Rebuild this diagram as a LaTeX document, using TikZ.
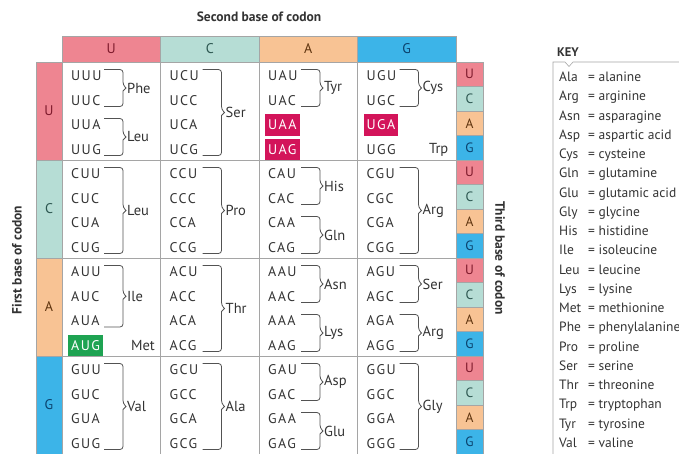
\documentclass[tikz,border=0pt]{standalone}
\usepackage{fontspec}
\setmainfont{PT Sans}
\newfontfamily\codonfont[LetterSpace=10]{PT Sans}

\definecolor{baseU}{HTML}{EE8591}
\definecolor{baseC}{HTML}{B6DDD5}
\definecolor{baseA}{HTML}{F8C394}
\definecolor{baseG}{HTML}{3CB4E8}
\definecolor{darkU}{HTML}{7E1A2C}
\definecolor{darkC}{HTML}{2C5650}
\definecolor{darkA}{HTML}{5E330E}
\definecolor{darkG}{HTML}{0B426D}
\definecolor{stopred}{HTML}{D3145A}
\definecolor{startgreen}{HTML}{1EA352}
\definecolor{gridgray}{HTML}{A5A5A5}
\definecolor{ink}{HTML}{333333}

% highlighted codons
\def\hiUAA{stopred}
\def\hiUAG{stopred}
\def\hiUGA{stopred}
\def\hiAUG{startgreen}

\tikzset{
  basecell/.style={draw=gridgray, line width=0.6pt, inner sep=0pt, font=\fontsize{14}{14}\selectfont},
  codon/.style={anchor=west, inner sep=0pt, text height=9.5pt, text depth=0pt, text=ink, font=\codonfont\fontsize{14}{14}\selectfont},
  hilite/.style={fill=#1, text=white, inner xsep=3pt, minimum height=21.5pt, xshift=-3pt},
  amino/.style={anchor=west, inner sep=0pt, text=ink, font=\fontsize{14.5}{14.5}\selectfont},
  brace/.style={draw=ink!85, line width=0.8pt, rounded corners=3pt},
  keytext/.style={anchor=base west, inner sep=0pt, text=ink, font=\fontsize{13.5}{13.5}\selectfont},
  title/.style={inner sep=0pt, text=ink, font=\bfseries\fontsize{13.5}{13.5}\selectfont}
}

\begin{document}
\begin{tikzpicture}[x=1pt,y=-1pt]
  \useasboundingbox (0,0) rectangle (679,453);

  % Titles
  \node[title] (second) at (259,17) {Second base of codon};
  \node[title, rotate=90] (first) at (17,260) {First base of codon};
  \node[title, rotate=-90] (third) at (500,258) {Third base of codon};

  % Body cells
  \foreach \i in {1,...,4}
    \foreach \j in {1,...,4}
    {
      \pgfmathsetmacro{\x}{62+(\j-0.5)*98.5}
      \pgfmathsetmacro{\y}{62+(\i-0.5)*98}
      \node[basecell, minimum width=98.5pt, minimum height=98pt] (cell-\i\j) at (\x,\y) {};
    }

  % Second base (header) and first base (left)
  \foreach \b [count=\j] in {U,C,A,G}
  {
    \pgfmathsetmacro{\x}{62+(\j-0.5)*98.5}
    \pgfmathsetmacro{\y}{62+(\j-0.5)*98}
    \node[basecell, fill=base\b, text=dark\b, minimum width=98.5pt, minimum height=26pt] (hd-\b) at (\x,49) {\b};
    \node[basecell, fill=base\b, text=dark\b, minimum width=26pt, minimum height=98pt] (fb-\b) at (49,\y) {\b};
  }

  % Third base (right)
  \foreach \i in {1,...,4}
    \foreach \t [count=\k] in {U,C,A,G}
    {
      \pgfmathsetmacro{\y}{62+(\i-1)*98+(\k-0.5)*24.5}
      \node[basecell, fill=base\t, text=dark\t, minimum width=27pt, minimum height=24.5pt, font=\fontsize{13.5}{13.5}\selectfont] (tb-\i\t) at (469.5,\y) {\t};
    }

  % Codons
  \foreach \f [count=\i] in {U,C,A,G}
    \foreach \s [count=\j] in {U,C,A,G}
      \foreach \t [count=\k] in {U,C,A,G}
      {
        \pgfmathsetmacro{\x}{62+(\j-1)*98.5+9}
        \pgfmathsetmacro{\y}{62+(\i-1)*98+14+(\k-1)*24.5}
        \ifcsname hi\f\s\t\endcsname
          \edef\hicol{\csname hi\f\s\t\endcsname}
          \node[codon, hilite=\hicol] (cod-\f\s\t) at (\x,\y) {\f\s\t};
        \else
          \node[codon] (cod-\f\s\t) at (\x,\y) {\f\s\t};
        \fi
      }

  % Braces and amino acids
  \foreach \i/\j/\ka/\kb/\res in {1/1/1/2/Phe, 1/1/3/4/Leu, 1/2/1/4/Ser, 1/3/1/2/Tyr, 1/4/1/2/Cys,
      2/1/1/4/Leu, 2/2/1/4/Pro, 2/3/1/2/His, 2/3/3/4/Gln, 2/4/1/4/Arg,
      3/1/1/3/Ile, 3/2/1/4/Thr, 3/3/1/2/Asn, 3/3/3/4/Lys, 3/4/1/2/Ser, 3/4/3/4/Arg,
      4/1/1/4/Val, 4/2/1/4/Ala, 4/3/1/2/Asp, 4/3/3/4/Glu, 4/4/1/4/Gly}
  {
    \pgfmathsetmacro{\brL}{62+(\j-1)*98.5}
    \pgfmathsetmacro{\brT}{62+(\i-1)*98+14+(\ka-1)*24.5-6.5}
    \pgfmathsetmacro{\brB}{62+(\i-1)*98+14+(\kb-1)*24.5+6}
    \pgfmathsetmacro{\brM}{(\brT+\brB)/2}
    \draw[brace] (\brL+42,\brT) -- (\brL+61,\brT) -- (\brL+61,\brM-3)
      [sharp corners] -- (\brL+64,\brM) -- (\brL+61,\brM+3)
      [rounded corners=3pt] -- (\brL+61,\brB) -- (\brL+42,\brB);
    \node[amino] (aa-\i\j\ka) at (\brL+65,\brM) {\res};
  }

  % Single amino acids
  \node[amino, anchor=east] (trp) at (62+3*98.5+91,149.5) {Trp};
  \node[amino, anchor=east] (met) at (62+93,345.5) {Met};

  % Key
  \node[title, anchor=west, font=\bfseries\fontsize{12.5}{12.5}\selectfont] (key) at (557,52) {KEY};
  \draw[gridgray, line width=0.6pt] (684,62) -- (573,62) -- (569,66.5) -- (565,62) -- (553,62) -- (553,458);
  \foreach \ab/\nm [count=\n] in {Ala/alanine, Arg/arginine, Asn/asparagine, Asp/aspartic acid,
      Cys/cysteine, Gln/glutamine, Glu/glutamic acid, Gly/glycine, His/histidine,
      Ile/isoleucine, Leu/leucine, Lys/lysine, Met/methionine, Phe/phenylalanine,
      Pro/proline, Ser/serine, Thr/threonine, Trp/tryptophan, Tyr/tyrosine, Val/valine}
  {
    \pgfmathsetmacro{\y}{81.5+(\n-1)*19.26}
    \node[keytext] (key-ab-\n) at (559,\y) {\ab};
    \node[keytext] (key-def-\n) at (588,\y) {= \nm};
  }
\end{tikzpicture}
\end{document}
